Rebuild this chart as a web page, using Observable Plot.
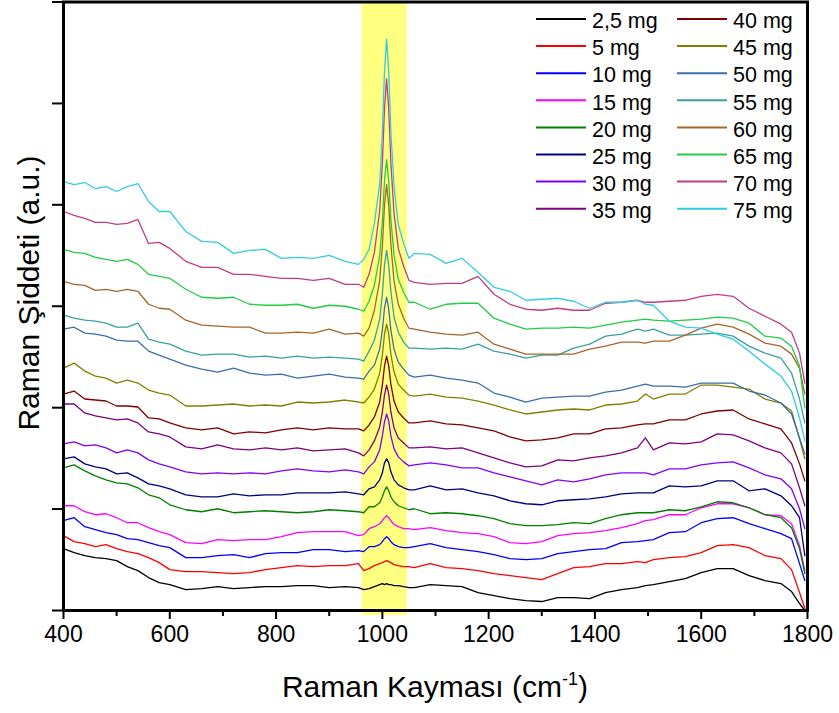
<!DOCTYPE html>
<html><head><meta charset="utf-8">
<script src="https://cdn.jsdelivr.net/npm/d3@7"></script>
<script src="https://cdn.jsdelivr.net/npm/@observablehq/plot@0.6"></script>
<style>html,body{margin:0;padding:0;background:#fff}svg{display:block}</style>
</head><body><div id="chart"></div>
<script>
// Raman shift (cm-1) sample positions
const ramanShift = [400,420,440,460,480,500,520,540,560,580,600, 630,660,690,720,750,780,810,840,870,900,930, 955,965,975,985,995,1000,1004,1008,1012,1016,1022,1030,1040,1050, 1060,1090,1120,1150,1180,1210,1240,1270,1300,1330,1360,1390,1420,1450,1480, 1495,1510,1540, 1570,1600,1630,1660,1690,1720,1750, 1770,1785,1795];

// Intensities (a.u., stacked as plotted)
const mg2_5 = [62,58,55,53,52,50,44,40,33,28,26, 21,22,24,22,23,24,24,25,25,23,24, 23,21,22,24,26,27,26,27,26,26,25,25,24,23, 23,26,25,24,18,15,12,10,9,13,13,12,18,21,23, 25,26,29, 32,38,42,42,35,30,27, 19,7,0];
const mg5 = [75,69,67,64,66,62,59,57,53,48,41, 39,39,38,37,38,41,43,45,44,45,45, 47,40,42,45,47,48,49,50,49,48,46,45,44,44, 43,47,43,42,40,37,35,33,31,37,43,44,47,47,49, 48,51,53, 54,58,65,66,63,55,52, 41,18,2];
const mg10 = [90,93,84,81,78,76,72,71,68,65,63, 53,53,55,56,53,57,58,58,61,61,59, 60,59,64,64,66,69,72,74,72,69,66,64,63,63, 64,67,63,61,59,56,52,51,52,57,59,61,62,68,69, 70,71,78, 79,88,92,93,87,82,77, 72,47,30];
const mg15 = [105,105,99,96,97,93,88,88,83,79,76, 68,67,71,70,71,71,74,78,79,79,79, 75,76,82,84,87,90,93,95,93,90,86,84,82,82, 81,83,80,78,77,74,68,67,69,75,77,78,80,83,87, 90,91,96, 96,103,107,107,103,96,95, 87,65,40];
const mg20 = [143,146,140,135,131,128,127,123,116,113,106, 101,99,102,98,99,100,99,98,99,101,100, 99,98,104,104,108,114,120,124,120,114,109,105,103,101, 102,97,98,97,95,92,87,85,85,86,88,87,92,96,98, 98,98,101, 100,104,109,108,103,96,93, 83,62,37];
const mg25 = [152,154,147,144,142,137,138,133,127,125,122, 116,114,114,117,115,116,116,118,118,118,119, 117,116,122,124,131,138,148,152,148,139,131,126,123,121, 121,125,121,122,118,115,110,107,106,110,111,112,114,117,118, 118,118,125, 124,125,130,130,120,122,115, 105,93,55];
const mg30 = [167,169,165,166,163,158,161,158,151,147,144, 139,137,138,137,138,137,140,142,140,139,141, 139,137,144,149,161,175,189,197,190,175,162,154,149,145, 146,148,146,143,143,138,134,130,126,131,129,132,136,138,138, 138,136,142, 142,146,148,149,143,136,132, 122,102,82];
const mg35 = [207,207,198,195,193,191,192,188,179,177,174, 164,162,166,162,161,163,161,163,160,161,162, 158,155,161,170,184,199,216,226,217,199,183,173,168,163, 163,164,162,163,158,153,148,144,145,151,150,153,155,158,163, 173,161,168, 167,169,177,176,170,163,158, 147,123,105];
const mg40 = [217,220,212,211,210,205,205,204,193,192,188, 183,181,183,177,179,178,181,183,181,183,182, 182,180,186,194,209,226,245,255,245,227,210,199,193,188, 188,190,187,186,183,180,174,170,171,173,177,177,182,183,186, 187,187,191, 191,197,200,201,192,187,182, 168,147,130];
const mg45 = [243,248,240,235,233,228,231,228,221,218,216, 205,205,206,207,205,206,205,209,208,209,211, 209,208,214,222,238,256,277,287,277,257,239,227,221,216, 215,217,214,213,210,206,201,197,199,201,202,201,206,207,210, 217,212,217, 217,226,226,224,222,212,208, 200,172,152];
const mg50 = [282,284,278,277,275,271,270,270,260,256,252, 246,242,239,243,238,236,237,233,235,237,234, 233,232,240,246,262,281,303,314,302,281,262,249,242,236, 234,236,233,231,228,218,214,209,213,214,215,215,219,221,225, 227,225,225, 224,228,228,228,220,216,208, 197,173,157];
const mg55 = [296,293,291,290,288,284,284,288,272,269,267, 260,256,257,257,254,255,253,255,253,254,253, 252,250,260,271,292,317,346,361,346,320,294,279,269,263, 263,262,263,262,267,260,257,253,256,256,263,267,275,277,282, 280,282,276, 276,277,278,275,265,258,253, 238,212,188];
const mg60 = [330,327,326,321,322,320,322,320,307,303,302, 291,286,285,284,284,278,278,279,278,282,277, 278,275,283,301,331,365,406,427,406,367,330,307,293,283, 282,279,277,276,279,267,262,257,257,257,257,262,265,269,269, 268,270,270, 276,283,287,284,277,268,265, 257,243,217];
const mg65 = [362,359,358,354,352,350,352,347,337,335,333, 322,314,313,314,307,306,306,307,303,306,305, 302,300,310,326,356,390,431,452,431,392,356,332,319,309, 309,302,307,308,308,293,287,282,283,283,284,283,286,289,291, 292,291,290, 291,292,294,293,288,275,273, 265,245,203];
const mg70 = [400,396,393,389,389,387,388,392,368,369,363, 350,344,344,337,337,335,333,333,331,333,327, 327,324,337,359,401,448,503,533,503,449,398,363,345,331, 329,327,328,328,335,317,307,302,301,303,301,301,308,309,311, 309,309,310, 311,315,317,315,303,295,287, 279,258,228];
const mg75 = [430,427,429,423,425,420,425,428,410,400,400, 380,370,369,358,361,362,353,354,353,356,350, 347,352,362,388,428,479,540,573,540,480,425,387,368,353, 358,357,348,353,339,324,320,311,312,313,310,303,309,309,311, 307,306,290, 284,283,277,272,260,247,235, 220,193,170];

const seriesNames = ["2,5 mg","5 mg","10 mg","15 mg","20 mg","25 mg","30 mg","35 mg","40 mg","45 mg","50 mg","55 mg","60 mg","65 mg","70 mg","75 mg"];
const seriesValues = [mg2_5,mg5,mg10,mg15,mg20,mg25,mg30,mg35,mg40,mg45,mg50,mg55,mg60,mg65,mg70,mg75];
const seriesColors = ["#000000","#FF0000","#0000FF","#FF00FF","#008000","#000080","#8000FF","#800080","#800000","#808000","#3A6EA8","#3AA0A0","#A8642A","#22CC44","#C03C84","#33CCDD"];

const xTicksMajor = [400,600,800,1000,1200,1400,1600,1800];
const xTicksMinor = [500,700,900,1100,1300,1500,1700];
const yTicks = [0,101.7,203.3,305,406.7,508.3,610];
const band = [{x1: 962, x2: 1047}];

const rows = [];
seriesNames.forEach((name, i) => {
  ramanShift.forEach((x, j) => rows.push({name, x, y: seriesValues[i][j]}));
});

const font = "'Liberation Sans', Arial, sans-serif";
const chart = Plot.plot({
  width: 839, height: 713,
  marginLeft: 63, marginRight: 32, marginTop: 1.5, marginBottom: 103,
  style: {fontFamily: font, background: "#fff", color: "#000"},
  x: {domain: [400, 1800]},
  y: {domain: [0, 610]},
  color: {domain: seriesNames, range: seriesColors},
  marks: [
    Plot.rect(band, {x1: "x1", x2: "x2", y1: -5, y2: 610, fill: "#FFFF80"}),
    Plot.line(rows, {x: "x", y: "y", z: "name", stroke: "name", strokeWidth: 1.3}),
    Plot.axisX({ticks: xTicksMajor, tickSize: 9, tickPadding: 6, fontSize: 23, strokeWidth: 2, tickFormat: d => String(d), label: null}),
    Plot.axisX({ticks: xTicksMinor, tickSize: 6, tickFormat: () => "", strokeWidth: 2, label: null}),
    Plot.axisY({ticks: yTicks, tickSize: 11, tickFormat: () => "", strokeWidth: 2, label: null}),
    Plot.frame({strokeWidth: 3})
  ]
});
document.getElementById("chart").appendChild(chart);

const svg = d3.select(chart);
// axis titles
const xt = svg.append("text").attr("x", 435).attr("y", 697).attr("text-anchor", "middle")
  .attr("font-family", font).attr("font-size", 30).attr("fill", "#000");
xt.append("tspan").text("Raman Kayması (cm");
xt.append("tspan").attr("font-size", 18).attr("dy", -12).text("-1");
xt.append("tspan").attr("font-size", 30).attr("dy", 12).text(")");
svg.append("text").attr("transform", "translate(39,293) rotate(-90)").attr("text-anchor", "middle")
  .attr("font-family", font).attr("font-size", 30).attr("fill", "#000").text("Raman Şiddeti (a.u.)");

// legend
const lg = svg.append("g").attr("font-family", font).attr("font-size", 21.5).attr("fill", "#000").attr("text-anchor", "start");
seriesNames.forEach((name, i) => {
  const col = Math.floor(i / 8), row = i % 8;
  const lx = col ? 677 : 536;
  const ty = 20.5 + row * 27.1;
  lg.append("line").attr("x1", lx).attr("x2", lx + 50).attr("y1", ty - 1.5).attr("y2", ty - 1.5)
    .attr("stroke", seriesColors[i]).attr("stroke-width", 2);
  lg.append("text").attr("x", lx + 56).attr("y", ty).attr("dy", "0.36em").attr("text-anchor", "start").text(name);
});
</script>
</body></html>
